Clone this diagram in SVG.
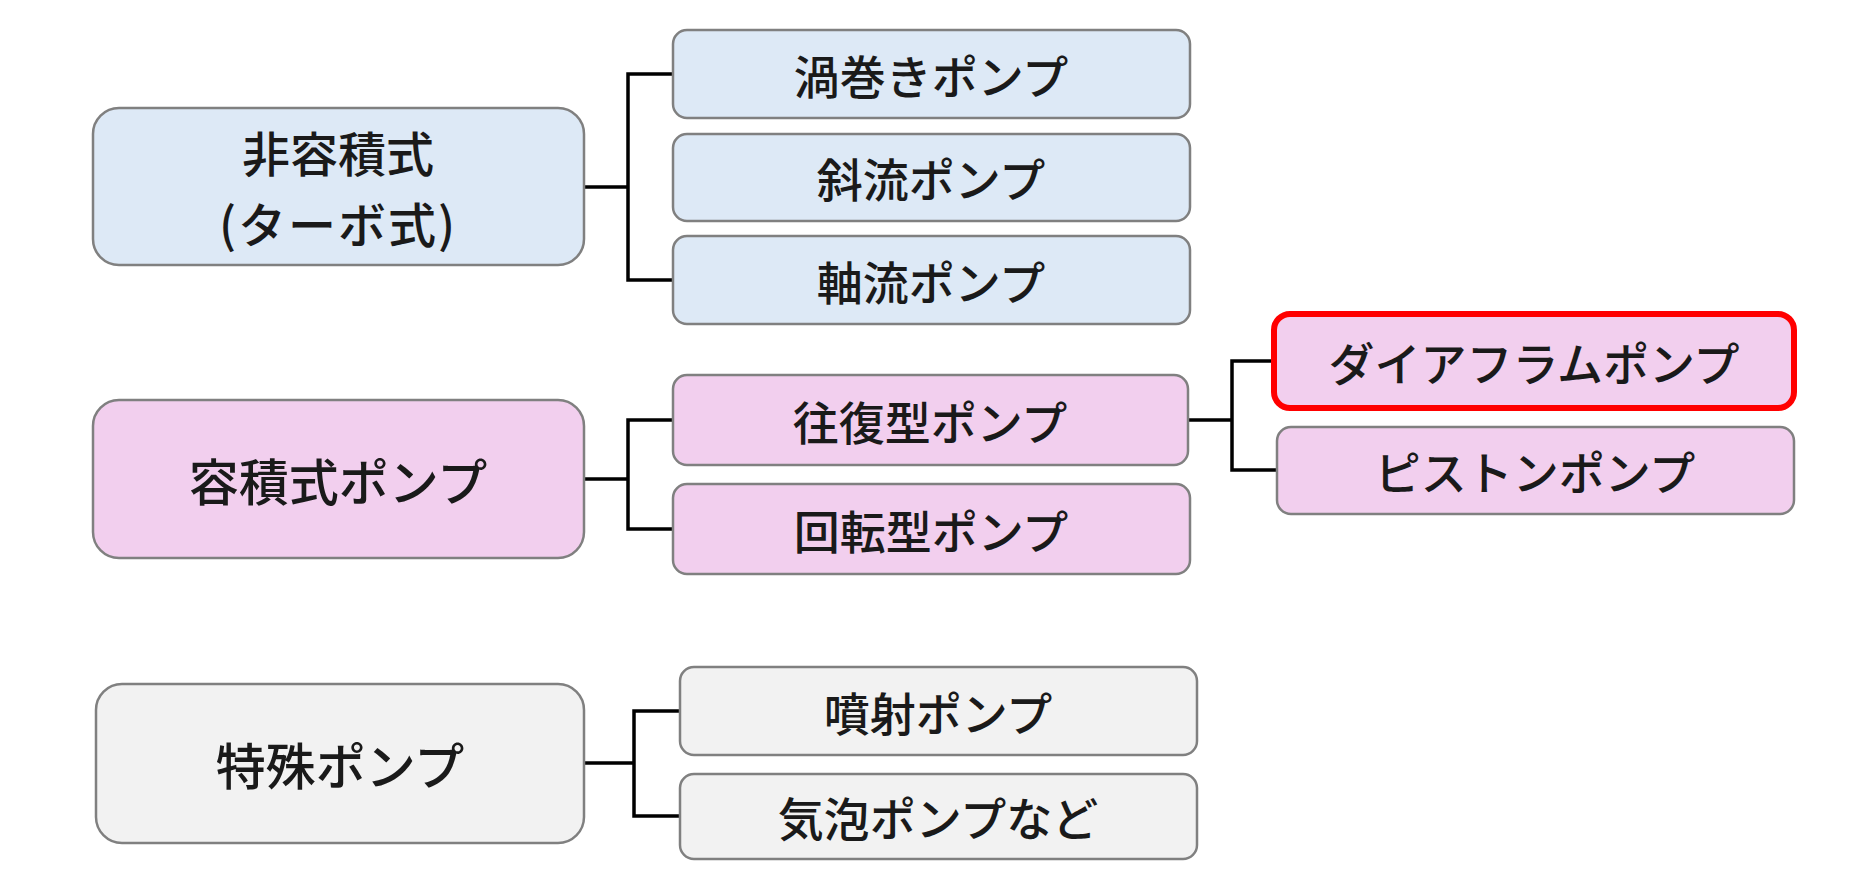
<svg xmlns="http://www.w3.org/2000/svg" width="1875" height="893" viewBox="0 0 1875 893">
<style>
.box{stroke:#808080;stroke-width:2.5}
.blue{fill:#dde9f6}
.pink{fill:#f2cfee}
.gray{fill:#f2f2f2}
.hl{stroke:#ff0000;stroke-width:6}
text{font-family:"Noto Sans CJK JP","Noto Sans CJK SC",sans-serif;fill:#1a1a1a;text-anchor:middle;dominant-baseline:central;font-weight:500}
.p{font-size:50px}
.p2{font-size:48px}
.c{font-size:46px}
.conn{fill:none;stroke:#000;stroke-width:3.5}
</style>
<rect width="1875" height="893" fill="#ffffff"/>
<g id="connectors">
<path class="conn" d="M584 187 H628 M673 74 H628 V280 H673"/>
<path class="conn" d="M584 479 H628 M673 420 H628 V529 H673"/>
<path class="conn" d="M1188 420 H1232 M1274 361 H1232 V470 H1277"/>
<path class="conn" d="M584 763 H634 M680 711 H634 V816 H680"/>
</g>
<g id="n_hiyoseki">
<rect class="box blue" x="93" y="108" width="491" height="157" rx="26"/>
<text class="p2" x="338" y="151">非容積式</text>
<text class="p2" x="338" y="222" letter-spacing="2">(ターボ式)</text>
</g>
<g id="n_uzumaki">
<rect class="box blue" x="673" y="30" width="517" height="88" rx="14"/>
<text class="c" x="931" y="74">渦巻きポンプ</text>
</g>
<g id="n_shariyu">
<rect class="box blue" x="673" y="134" width="517" height="87" rx="14"/>
<text class="c" x="931" y="177">斜流ポンプ</text>
</g>
<g id="n_jikuryu">
<rect class="box blue" x="673" y="236" width="517" height="88" rx="14"/>
<text class="c" x="931" y="280">軸流ポンプ</text>
</g>
<g id="n_yoseki">
<rect class="box pink" x="93" y="400" width="491" height="158" rx="26"/>
<text class="p" x="338" y="479">容積式ポンプ</text>
</g>
<g id="n_oufuku">
<rect class="box pink" x="673" y="375" width="515" height="90" rx="14"/>
<text class="c" x="930" y="420">往復型ポンプ</text>
</g>
<g id="n_kaiten">
<rect class="box pink" x="673" y="484" width="517" height="90" rx="14"/>
<text class="c" x="931" y="529">回転型ポンプ</text>
</g>
<g id="n_diaphragm">
<rect class="pink hl" x="1274" y="314" width="520" height="94" rx="16"/>
<text class="c" x="1534" y="361">ダイアフラムポンプ</text>
</g>
<g id="n_piston">
<rect class="box pink" x="1277" y="427" width="517" height="87" rx="14"/>
<text class="c" x="1535" y="470">ピストンポンプ</text>
</g>
<g id="n_tokushu">
<rect class="box gray" x="96" y="684" width="488" height="159" rx="26"/>
<text class="p" x="340" y="763">特殊ポンプ</text>
</g>
<g id="n_funsha">
<rect class="box gray" x="680" y="667" width="517" height="88" rx="14"/>
<text class="c" x="938" y="711">噴射ポンプ</text>
</g>
<g id="n_kihou">
<rect class="box gray" x="680" y="774" width="517" height="85" rx="14"/>
<text class="c" x="938" y="816">気泡ポンプなど</text>
</g>
</svg>
